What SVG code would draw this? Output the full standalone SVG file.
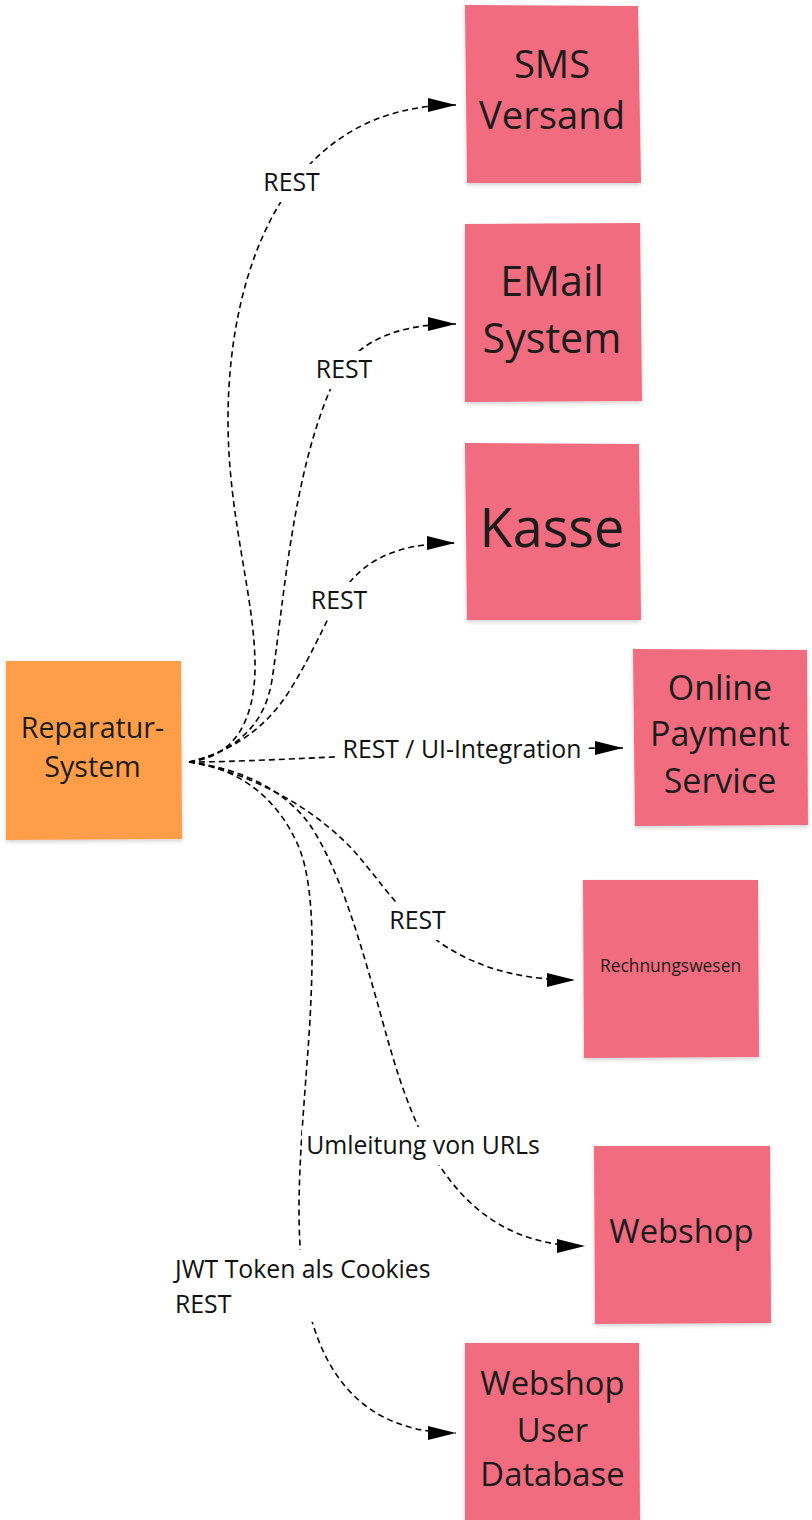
<svg xmlns="http://www.w3.org/2000/svg" width="812" height="1520" viewBox="0 0 812 1520">
<style>
.note{fill:#F16C7F;filter:url(#sh)}
.src{fill:#FF9D48;filter:url(#sh)}
.nt{font-family:"Open Sans","Noto Sans","DejaVu Sans",sans-serif;fill:#1c1c1c;text-anchor:middle}
.lbl{font-family:"Open Sans","Noto Sans","DejaVu Sans",sans-serif;fill:#111;font-size:24.8px}
.c{fill:none;stroke:#000;stroke-width:1.6;stroke-dasharray:6 4;marker-end:url(#ah)}
.bg{fill:#fff}
</style>
<defs>
<filter id="sh" x="-10%" y="-10%" width="120%" height="125%">
<feDropShadow dx="0" dy="2" stdDeviation="2" flood-color="#000" flood-opacity="0.18"/>
</filter>
<marker id="ah" markerUnits="userSpaceOnUse" markerWidth="28" markerHeight="14" refX="28" refY="7" orient="auto">
<path d="M0,0 L28,7 L0,14 z" fill="#000"/>
</marker>
</defs>
<rect width="812" height="1520" fill="#fff"/>

<g id="connectors">
<path class="c" d="M189,762 C235,757 254,720 255,670 C256,600 228,520 228,420 C228,280 280,105 456,105"/>
<path class="c" d="M189,762 C235,752 265,725 272,680 C284,600 292,480 330,390 C350,345 390,324 456,324"/>
<path class="c" d="M189,762 C230,752 265,730 290,690 C310,658 322,630 335,605 C355,565 390,543 455,543"/>
<path class="c" d="M189,762 C280,762 450,748 623,748"/>
<path class="c" d="M189,762 C250,772 320,810 360,858 C400,905 440,980 575,980"/>
<path class="c" d="M189,762 C240,768 285,790 310,825 C340,870 360,940 385,1030 C410,1120 450,1246 585,1246"/>
<path class="c" d="M189,762 C240,768 280,800 300,850 C315,890 313,960 310,1020 C305,1100 296,1180 300,1245 C305,1340 340,1433 456,1433"/>
<g id="labels">
<rect class="bg" x="260" y="164" width="63" height="38"/>
<text class="lbl" x="291.5" y="191" text-anchor="middle">REST</text>
<rect class="bg" x="312" y="351" width="64" height="38"/>
<text class="lbl" x="344" y="378" text-anchor="middle">REST</text>
<rect class="bg" x="307" y="582" width="64" height="38"/>
<text class="lbl" x="339" y="609" text-anchor="middle">REST</text>
<rect class="bg" x="338" y="736" width="250" height="30"/>
<text class="lbl" x="462" y="758" text-anchor="middle">REST / UI-Integration</text>
<rect class="bg" x="386" y="902" width="63" height="38"/>
<text class="lbl" x="417.5" y="929" text-anchor="middle">REST</text>
<rect class="bg" x="302" y="1127" width="243" height="38"/>
<text class="lbl" x="423" y="1154" text-anchor="middle">Umleitung von URLs</text>
<rect class="bg" x="170" y="1250" width="268" height="72"/>
<text class="lbl" x="175" y="1278">JWT Token als Cookies</text>
<text class="lbl" x="175" y="1313">REST</text>
</g>
</g>

<g id="reparatur">
<polygon class="src" points="6,661 181,661 182,839 6,840"/>
<text class="nt" font-size="28.6" x="92.5" y="738">Reparatur-</text>
<text class="nt" font-size="28.6" x="92.5" y="777">System</text>
</g>
<g id="sms">
<polygon class="note" points="465,5 638,6 641,183 467,183"/>
<text class="nt" font-size="38.2" x="552" y="78">SMS</text>
<text class="nt" font-size="38.2" x="552" y="129">Versand</text>
</g>
<g id="email">
<polygon class="note" points="465,224 640,223 642,401 465,402"/>
<text class="nt" font-size="41.2" x="552" y="296">EMail</text>
<text class="nt" font-size="41.2" x="552" y="353">System</text>
</g>
<g id="kasse">
<polygon class="note" points="465,443 639,444 641,620 467,620"/>
<text class="nt" font-size="54" x="552" y="547">Kasse</text>
</g>
<g id="online">
<polygon class="note" points="633,649 807,650 808,825 635,826"/>
<text class="nt" font-size="34" x="720" y="700">Online</text>
<text class="nt" font-size="34" x="720" y="746">Payment</text>
<text class="nt" font-size="34" x="720" y="793">Service</text>
</g>
<g id="rechnung">
<polygon class="note" points="583,880 758,880 759,1057 584,1058"/>
<text class="nt" font-size="17.4" x="670.5" y="972">Rechnungswesen</text>
</g>
<g id="webshop">
<polygon class="note" points="594,1146 770,1146 771,1323 595,1324"/>
<text class="nt" font-size="32.8" x="681.5" y="1243">Webshop</text>
</g>
<g id="webshopdb">
<polygon class="note" points="465,1343 639,1343 640,1521 465,1521"/>
<text class="nt" font-size="32.8" x="552.5" y="1395">Webshop</text>
<text class="nt" font-size="32.8" x="552.5" y="1442">User</text>
<text class="nt" font-size="32.8" x="552.5" y="1486">Database</text>
</g>
</svg>
